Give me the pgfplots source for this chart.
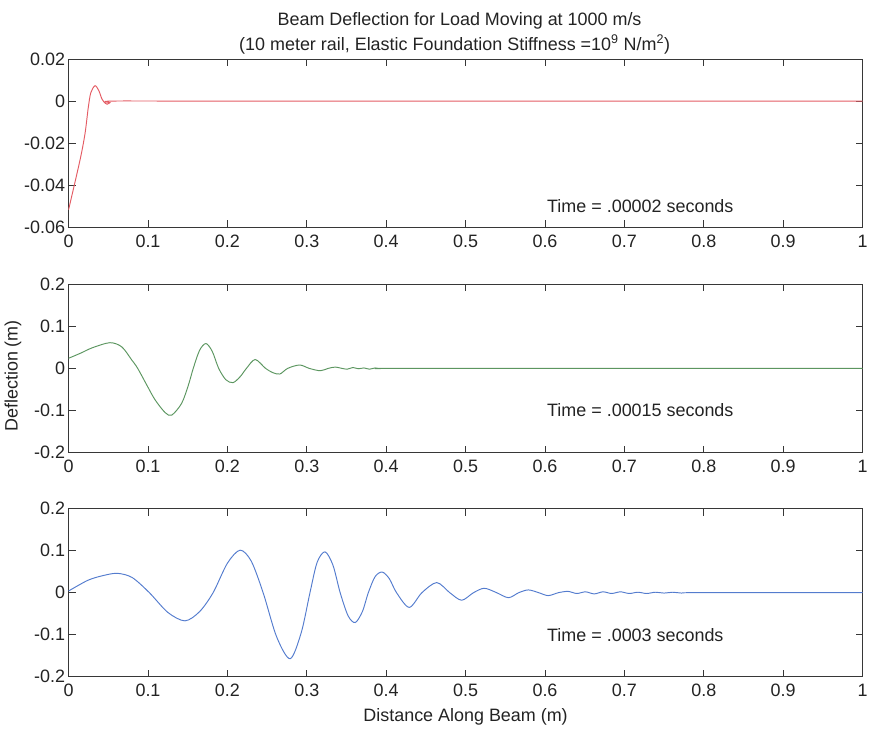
\documentclass[border=0pt]{standalone}
\usepackage{fontspec}
\setmainfont{Liberation Sans}
\usepackage{pgfplots}
\pgfplotsset{compat=1.18}

\definecolor{curvered}{RGB}{228,92,100}
\definecolor{curvegreen}{RGB}{92,150,96}
\definecolor{curveblue}{RGB}{84,124,206}
\definecolor{axisgray}{RGB}{55,55,55}
\definecolor{textgray}{RGB}{35,35,35}
\newcommand\fs{\fontsize{18}{21.6}\selectfont}

\tikzset{
  timelabel/.style={anchor=west, inner sep=0pt, xshift=2bp, font=\fs, text=textgray},
}
\pgfplotsset{
  beam/.style={
    scale only axis, width=794bp, height=168.3bp,
    anchor=north west, clip=false,
    xmin=0, xmax=1,
    scaled ticks=false,
    tick align=inside, xtick pos=both, ytick pos=both,
    major tick length=7bp,
    xtick={0,0.1,0.2,0.3,0.4,0.5,0.6,0.7,0.8,0.9,1},
    xticklabels={0,0.1,0.2,0.3,0.4,0.5,0.6,0.7,0.8,0.9,1},
    axis line style={axisgray, line width=0.8bp},
    every tick/.style={axisgray, line width=0.8bp},
    tick label style={font=\fs, text=textgray},
    xticklabel style={yshift=-4bp},
    label style={font=\fs, text=textgray},
  },
  curve/.style={line width=0.95bp, smooth, tension=0.5},
}

\begin{document}
\begin{tikzpicture}
\useasboundingbox (5bp,0) rectangle (874bp,-729bp);

% t = 0.00002 s
\begin{axis}[beam, at={(73.6bp,-59bp)},
  ymin=-0.06, ymax=0.02,
  ytick={-0.06,-0.04,-0.02,0,0.02},
  yticklabels={-0.06,-0.04,-0.02,0,0.02}]
\addplot[curvered, curve] coordinates {
  (0,-0.0516) (0.0144,-0.028) (0.0207,-0.0154)
  (0.0248,-0.003) (0.028,0.004) (0.0333,0.0073) (0.038,0.005)
  (0.042,0.001) (0.046,-0.001) (0.0485,-0.0015) (0.052,-0.0008)
  (0.0555,0) (0.2,0) (1,0)};
\node[timelabel] at (axis cs:0.6,-0.05) {Time = .00002 seconds};
\node[font=\fs, text=textgray, anchor=base, xshift=-6bp, yshift=34bp]
  at (axis description cs:0.5,1) {Beam Deflection for Load Moving at 1000 m/s};
\node[font=\fs, text=textgray, anchor=base, xshift=-11bp, yshift=9bp]
  at (axis description cs:0.5,1)
  {(10 meter rail, Elastic Foundation Stiffness =10\textsuperscript{9} N/m\textsuperscript{2})};
\end{axis}

% t = 0.00015 s
\begin{axis}[beam, at={(73.6bp,-284.2bp)},
  ymin=-0.2, ymax=0.2,
  ytick={-0.2,-0.1,0,0.1,0.2},
  yticklabels={-0.2,-0.1,0,0.1,0.2},
  ylabel={Deflection (m)},
  ylabel style={at={(axis description cs:-0.07,0.455)}, anchor=center}]
\addplot[curvegreen, curve] coordinates {
  (0,0.024) (0.015,0.036) (0.03,0.049) (0.052,0.061) (0.067,0.051)
  (0.0795,0.020) (0.087,0.0) (0.1,-0.045) (0.109,-0.075) (0.1215,-0.105)
  (0.130,-0.111) (0.1424,-0.083) (0.151,-0.039) (0.157,0.0) (0.165,0.043)
  (0.173,0.059) (0.181,0.040) (0.189,0.0) (0.198,-0.027) (0.207,-0.034)
  (0.216,-0.020) (0.224,0.0) (0.235,0.021) (0.248,0.0) (0.257,-0.010)
  (0.266,-0.0135) (0.276,0.0) (0.291,0.008) (0.303,0.0) (0.317,-0.0057)
  (0.327,0.0) (0.336,0.003) (0.344,0.0) (0.351,-0.002) (0.358,0.002)
  (0.365,-0.001) (0.372,0.001) (0.379,-0.002) (0.386,0.001) (0.393,-0.001)
  (0.40,0) (0.6,0) (1,0)};
\node[timelabel] at (axis cs:0.6,-0.1) {Time = .00015 seconds};
\end{axis}

% t = 0.0003 s
\begin{axis}[beam, at={(73.6bp,-508.5bp)},
  ymin=-0.2, ymax=0.2,
  ytick={-0.2,-0.1,0,0.1,0.2},
  yticklabels={-0.2,-0.1,0,0.1,0.2},
  xlabel={Distance Along Beam (m)},
  xlabel style={at={(axis description cs:0.5,0)}, anchor=base, yshift=-45bp}]
\addplot[curveblue, curve] coordinates {
  (0,0.004) (0.012,0.017) (0.025,0.030) (0.04,0.039) (0.0606,0.046)
  (0.08,0.036) (0.1017,0.0) (0.125,-0.047) (0.1466,-0.067) (0.165,-0.045)
  (0.182,0.0) (0.2,0.070) (0.216,0.101) (0.230,0.075) (0.245,0.0)
  (0.262,-0.105) (0.279,-0.157) (0.293,-0.095) (0.304,0.0) (0.313,0.072)
  (0.323,0.097) (0.333,0.065) (0.342,0.0) (0.352,-0.055) (0.361,-0.071)
  (0.370,-0.045) (0.3775,0.0) (0.386,0.038) (0.395,0.049) (0.404,0.033)
  (0.413,0.0) (0.429,-0.035) (0.445,0.0) (0.4636,0.024) (0.48,0.0)
  (0.495,-0.018) (0.51,0) (0.5236,0.0104) (0.539,0) (0.554,-0.012)
  (0.567,0) (0.579,0.0065) (0.592,0) (0.604,-0.007) (0.617,0)
  (0.629,0.003) (0.640,-0.002) (0.651,0.002) (0.662,-0.003) (0.673,0.002)
  (0.684,-0.002) (0.695,0.002) (0.706,-0.002) (0.717,0.001) (0.728,-0.002)
  (0.739,0.001) (0.750,-0.001) (0.761,0.001) (0.772,-0.001) (0.785,0)
  (0.9,0) (1,0)};
\node[timelabel] at (axis cs:0.6,-0.1) {Time = .0003 seconds};
\end{axis}
\end{tikzpicture}
\end{document}
